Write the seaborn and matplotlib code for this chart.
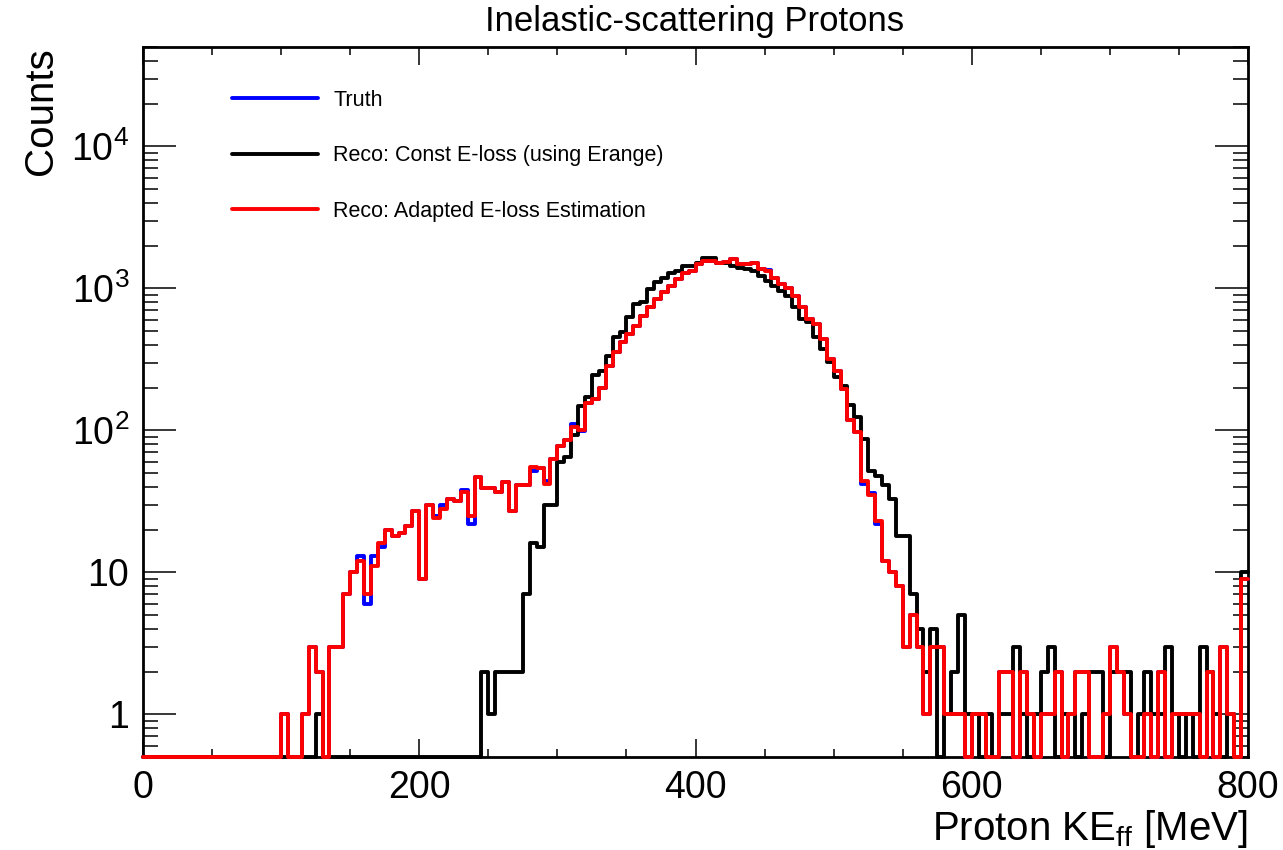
import numpy as np
import matplotlib
matplotlib.use('Agg')
import matplotlib.pyplot as plt
from matplotlib.ticker import FixedLocator, FuncFormatter, MultipleLocator, LogLocator, NullFormatter
import seaborn as sns

# 5 MeV bins from 0 to 800 MeV
bin_edges = np.arange(0, 805, 5)

# counts per bin, 10 bins (50 MeV) per row
truth = [
    0, 0, 0, 0, 0, 0, 0, 0, 0, 0,
    0, 0, 0, 0, 0, 0, 0, 0, 0, 0,
    1, 0, 0, 1, 3, 2, 0, 3, 3, 7,
    10, 13, 6, 13, 15, 20, 18, 19, 21, 27,
    9, 30, 25, 30, 33, 32, 38, 22, 47, 39,
    39, 37, 43, 27, 41, 41, 52, 54, 44, 63,
    78, 85, 110, 98, 155, 165, 200, 285, 354, 416,
    476, 544, 640, 733, 838, 934, 1040, 1160, 1290, 1325,
    1480, 1560, 1560, 1517, 1520, 1600, 1470, 1470, 1517, 1360,
    1350, 1190, 1070, 1012, 885, 733, 607, 560, 439, 318,
    263, 195, 118, 97, 42, 36, 22, 12, 10, 8,
    3, 5, 3, 1, 3, 3, 1, 1, 1, 0,
    1, 1, 0, 0, 2, 2, 0, 2, 1, 0,
    1, 1, 2, 0, 1, 2, 2, 0, 0, 1,
    3, 2, 1, 0, 0, 1, 0, 2, 0, 1,
    1, 1, 1, 0, 2, 0, 3, 1, 0, 9,
]

reco_const = [
    0, 0, 0, 0, 0, 0, 0, 0, 0, 0,
    0, 0, 0, 0, 0, 0, 0, 0, 0, 0,
    0, 0, 0, 0, 0, 1, 0, 0, 0, 0,
    0, 0, 0, 0, 0, 0, 0, 0, 0, 0,
    0, 0, 0, 0, 0, 0, 0, 0, 0, 2,
    1, 2, 2, 2, 2, 7, 16, 15, 30, 30,
    60, 65, 92, 149, 171, 243, 263, 335, 451, 489,
    624, 773, 795, 986, 1098, 1190, 1290, 1325, 1437, 1437,
    1517, 1645, 1645, 1517, 1517, 1437, 1400, 1360, 1325, 1222,
    1127, 1040, 959, 885, 733, 607, 575, 451, 373, 301,
    236, 206, 151, 124, 87, 52, 48, 41, 33, 18,
    18, 7, 4, 2, 4, 0, 1, 2, 5, 1,
    1, 0, 1, 0, 1, 1, 3, 1, 0, 1,
    2, 3, 0, 1, 1, 0, 1, 2, 2, 0,
    2, 2, 2, 0, 1, 2, 1, 1, 3, 1,
    0, 1, 0, 3, 2, 1, 0, 1, 0, 10,
]

reco_adapted = [
    0, 0, 0, 0, 0, 0, 0, 0, 0, 0,
    0, 0, 0, 0, 0, 0, 0, 0, 0, 0,
    1, 0, 0, 1, 3, 2, 0, 3, 3, 7,
    10, 12, 7, 11, 16, 20, 18, 19, 21, 27,
    9, 30, 24, 28, 33, 32, 37, 25, 47, 39,
    39, 37, 43, 27, 41, 41, 55, 54, 42, 63,
    78, 85, 105, 100, 155, 165, 200, 285, 354, 416,
    476, 544, 640, 733, 838, 934, 1040, 1160, 1290, 1325,
    1480, 1560, 1560, 1517, 1520, 1600, 1470, 1470, 1517, 1360,
    1325, 1190, 1070, 1012, 885, 733, 607, 560, 439, 318,
    263, 195, 118, 97, 44, 35, 23, 12, 10, 8,
    3, 5, 3, 1, 3, 3, 1, 1, 1, 0,
    1, 1, 0, 0, 2, 2, 0, 2, 1, 0,
    1, 1, 2, 0, 1, 2, 2, 0, 0, 1,
    3, 2, 1, 0, 0, 1, 0, 2, 0, 1,
    1, 1, 1, 0, 2, 0, 3, 1, 0, 9,
]

series = [
    ('Truth', truth, 'blue'),
    ('Reco: Const E-loss (using Erange)', reco_const, 'black'),
    ('Reco: Adapted E-loss Estimation', reco_adapted, 'red'),
]

ymin, ymax = 0.5, 5e4

sns.set_theme(style="white")
plt.rcParams['font.family'] = ['Liberation Sans', 'DejaVu Sans']
plt.rcParams['mathtext.fontset'] = 'custom'
plt.rcParams['mathtext.rm'] = 'Liberation Sans'
plt.rcParams['mathtext.it'] = 'Liberation Sans:italic'
plt.rcParams['text.color'] = 'black'
plt.rcParams['axes.labelcolor'] = 'black'
plt.rcParams['xtick.color'] = 'black'
plt.rcParams['ytick.color'] = 'black'

fig = plt.figure(figsize=(12.83, 8.5), dpi=100)
ax = fig.add_axes([143 / 1283, 93 / 850, 1105 / 1283, 710 / 850])

for name, counts, color in series:
    # step outline: repeat last bin at the right edge, empty bins sit on the frame
    y = np.array(counts + [counts[-1]], dtype=float)
    y = np.where(y > 0, y, ymin)
    sns.lineplot(x=bin_edges, y=y, drawstyle='steps-post', color=color, linewidth=2.8,
                 label=name, estimator=None, errorbar=None, sort=False,
                 clip_on=False, zorder=3, ax=ax)

ax.set_yscale('log')
ax.set_xlim(0, 800)
ax.set_ylim(ymin, ymax)

ax.xaxis.set_major_locator(MultipleLocator(200))
ax.xaxis.set_minor_locator(MultipleLocator(50))
ax.yaxis.set_major_locator(FixedLocator([1, 10, 100, 1000, 10000]))
ax.yaxis.set_minor_locator(LogLocator(base=10, subs=np.arange(2, 10), numticks=20))
ax.yaxis.set_minor_formatter(NullFormatter())


def log_label(v, pos):
    if v == 1:
        return '1'
    if v == 10:
        return '10'
    return '$10^{%d}$' % int(round(np.log10(v)))


ax.yaxis.set_major_formatter(FuncFormatter(log_label))

ax.tick_params(which='both', direction='in', bottom=True, left=True, top=True, right=True,
               width=1.1, color='black', labelcolor='black')
ax.tick_params(axis='x', which='major', length=13, labelsize=27, pad=9)
ax.tick_params(axis='x', which='minor', length=6)
ax.tick_params(axis='y', which='major', length=24, labelsize=27, pad=10)
ax.tick_params(axis='y', which='minor', length=11)

for sp in ax.spines.values():
    sp.set_linewidth(2)
    sp.set_color('black')

ax.set_xlabel('Proton KE$_{\\rm ff}$ [MeV]', loc='right', fontsize=29, labelpad=2)
ax.set_ylabel('Counts', loc='top', fontsize=29, labelpad=8)

fig.text(695 / 1283, 1 - 22 / 850, 'Inelastic-scattering Protons',
         ha='center', va='center', fontsize=25)

ax.legend(loc='upper left', bbox_to_anchor=(89 / 1105, (757 - 90) / 710), frameon=False,
          fontsize=15.5, handlelength=4.0, handletextpad=0.7, labelspacing=1.6,
          borderpad=0, borderaxespad=0)

fig.savefig('out.png', dpi=100)
plt.close(fig)
